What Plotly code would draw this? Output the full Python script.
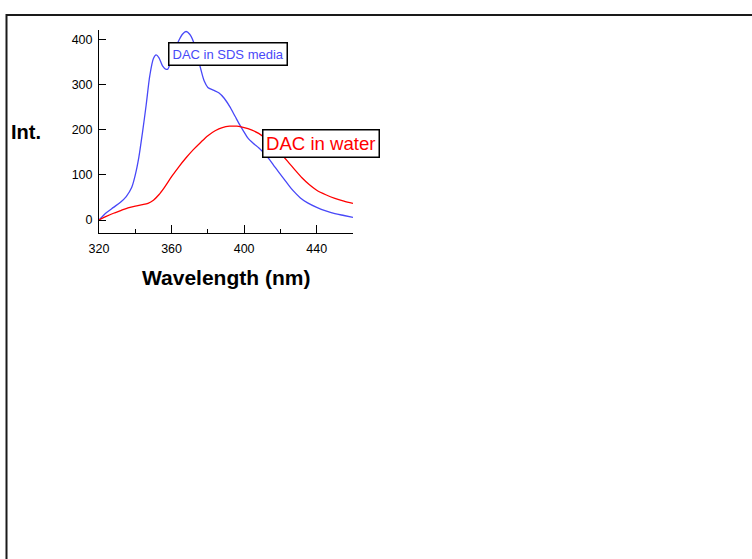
import plotly.graph_objects as go

# ---- data ----
sds_wavelength = [320, 324, 328, 332, 335, 338, 340, 342, 344, 346, 348, 350, 351.5, 353, 355, 357,
                  358, 360, 362, 364, 366, 368, 370, 372, 374, 376, 378, 380, 383, 386, 389, 392,
                  395, 398, 400, 402, 405, 408, 411, 414, 417, 420, 424, 427, 431, 435, 440, 445,
                  450, 455, 460]
sds_intensity = [0, 16, 28, 40, 52, 72, 100, 140, 195, 255, 320, 358, 366, 360, 342, 334,
                 335, 358, 380, 398, 412, 418, 412, 396, 368, 336, 308, 294, 288, 282, 270, 252,
                 230, 208, 195, 182, 170, 160, 148, 134, 117, 101, 80, 65, 49, 38, 28, 20,
                 14, 10, 6]

water_wavelength = [320, 324, 328, 332, 336, 340, 344, 347, 350, 353, 356, 360, 364, 368, 372, 376,
                    380, 384, 388, 392, 396, 400, 404, 408, 412, 416, 420, 424, 428, 432, 436, 440,
                    445, 450, 455, 460]
water_intensity = [0, 8, 15, 21, 27, 31, 34, 37, 44, 56, 72, 96, 118, 138, 156, 172,
                   187, 198, 205, 208, 208, 205, 200, 192, 180, 165, 148, 130, 111, 93, 78, 66,
                   56, 48, 42, 37]

x_ticks = [320, 360, 400, 440]
y_ticks = [0, 100, 200, 300, 400]

W, H = 752, 559
FONT = "Liberation Sans, Arial, sans-serif"
BLUE = "#4848f8"
RED = "#ff0000"

fig = go.Figure()
fig.add_trace(go.Scatter(x=sds_wavelength, y=sds_intensity, mode="lines",
                         line=dict(color=BLUE, width=1.3, shape="spline", smoothing=0.8),
                         showlegend=False, hoverinfo="skip"))
fig.add_trace(go.Scatter(x=water_wavelength, y=water_intensity, mode="lines",
                         line=dict(color=RED, width=1.3, shape="spline", smoothing=0.8),
                         showlegend=False, hoverinfo="skip"))

fig.update_layout(
    width=W, height=H,
    margin=dict(l=0, r=0, t=0, b=0, pad=0, autoexpand=False),
    paper_bgcolor="white", plot_bgcolor="white",
    font=dict(family=FONT, size=12, color="black"),
    xaxis=dict(domain=[99 / W, 353 / W], range=[320, 460], automargin=False,
               showline=True, linecolor="black", linewidth=1,
               ticks="inside", ticklen=8, tickwidth=1, tickcolor="black",
               tickvals=x_ticks, showgrid=False, zeroline=False, ticklabelstandoff=4,
               minor=dict(dtick=20, tick0=320, ticks="inside", ticklen=4, tickcolor="black", showgrid=False),
               tickfont=dict(size=12.5), fixedrange=True),
    yaxis=dict(domain=[1 - 233.3 / H, 1 - 29.7 / H], range=[-29.5, 422], automargin=False,
               showline=True, linecolor="black", linewidth=1,
               ticks="inside", ticklen=7, tickwidth=1, tickcolor="black",
               tickvals=y_ticks, showgrid=False, zeroline=False, ticklabelstandoff=3,
               tickfont=dict(size=12.5), fixedrange=True),
    shapes=[dict(type="rect", xref="paper", yref="paper",
                 x0=6.5 / W, x1=1.05, y0=-0.05, y1=1 - 15 / H,
                 line=dict(color="#1a1a1a", width=2), fillcolor="rgba(0,0,0,0)", layer="above")],
    annotations=[
        dict(text="<b>Int.</b>", xref="paper", yref="paper", x=26 / W, y=1 - 132 / H,
             showarrow=False, font=dict(size=20, family=FONT, color="black"),
             xanchor="center", yanchor="middle"),
        dict(text="<b>Wavelength (nm)</b>", xref="paper", yref="paper", x=226 / W, y=1 - 278 / H,
             showarrow=False, font=dict(size=21, family=FONT, color="black"),
             xanchor="center", yanchor="middle"),
        dict(text="DAC in SDS media", xref="x", yref="y", x=391.1, y=368,
             showarrow=False, font=dict(size=13, family=FONT, color=BLUE),
             bgcolor="white", bordercolor="black", borderwidth=1.5, borderpad=3,
             xanchor="center", yanchor="middle"),
        dict(text="DAC in water", xref="x", yref="y", x=442.4, y=170,
             showarrow=False, font=dict(size=18.6, family=FONT, color=RED),
             bgcolor="white", bordercolor="black", borderwidth=1.5, borderpad=2.5,
             xanchor="center", yanchor="middle"),
    ],
)

fig.write_html("out.html")
